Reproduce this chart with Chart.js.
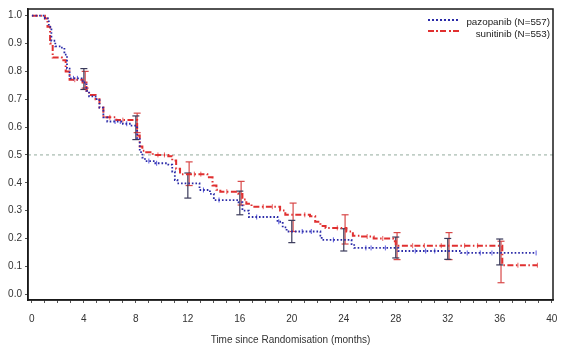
<!DOCTYPE html>
<html>
<head>
<meta charset="utf-8">
<script src="https://cdn.jsdelivr.net/npm/chart.js@4"></script>
<style>
  body { margin:0; background:#fff; }
  #wrap { position:relative; width:576px; height:353px; font-family:'Liberation Sans', Arial, sans-serif; }
  .lg { position:absolute; right:26px; font-size:9.8px; color:#222; white-space:nowrap; line-height:11px; }
  .sw { position:absolute; left:428px; width:32px; height:2px; }
</style>
</head>
<body>
<div id="wrap">
  <canvas id="km" width="576" height="353"></canvas>
  <div class="sw" style="top:19px;background:repeating-linear-gradient(to right,#2a2aa8 0 2px,transparent 2px 4px);"></div>
  <div class="sw" style="top:30px;background:repeating-linear-gradient(to right,#e03030 0 6px,transparent 6px 8.5px,#e03030 8.5px 10px,transparent 10px 12.5px);"></div>
  <div class="lg" style="top:16px;">pazopanib (N=557)</div>
  <div class="lg" style="top:28px;">sunitinib (N=553)</div>
</div>
<script>
// KM step curves: value holds from each time onward
const pazTimes = [0, 1.0, 1.3, 1.5, 1.8, 2.2, 2.5, 2.7, 2.9, 3.9, 4.2, 4.4, 4.9, 5.2, 5.5, 5.8, 7.0, 7.6, 8.1, 8.3, 8.5, 8.7, 9.5, 10.5, 10.8, 11.0, 11.2, 12.9, 13.7, 14.0, 15.9, 16.2, 16.7, 18.9, 19.3, 19.6, 22.2, 22.3, 24.6, 24.8, 28.2, 33.0, 38.8];
const pazSurv  = [1.0, 0.99, 0.96, 0.91, 0.89, 0.885, 0.86, 0.81, 0.775, 0.76, 0.73, 0.71, 0.70, 0.67, 0.635, 0.62, 0.612, 0.605, 0.56, 0.51, 0.49, 0.478, 0.47, 0.465, 0.44, 0.41, 0.398, 0.374, 0.36, 0.338, 0.33, 0.30, 0.277, 0.26, 0.24, 0.225, 0.21, 0.195, 0.18, 0.166, 0.155, 0.148, 0.148];
const sunTimes = [0, 1.0, 1.2, 1.4, 1.6, 2.3, 2.6, 2.9, 3.9, 4.2, 4.4, 4.9, 5.2, 5.5, 6.5, 8.1, 8.3, 8.5, 8.8, 9.3, 10.5, 10.8, 11.1, 11.4, 13.5, 13.9, 14.2, 14.5, 15.9, 16.2, 16.5, 16.9, 19.1, 19.5, 21.4, 21.8, 22.2, 22.6, 24.2, 24.7, 25.3, 26.3, 27.8, 28.0, 36.2, 38.9];
const sunSurv  = [1.0, 0.99, 0.96, 0.90, 0.85, 0.84, 0.80, 0.77, 0.76, 0.73, 0.715, 0.70, 0.67, 0.635, 0.625, 0.57, 0.53, 0.515, 0.51, 0.50, 0.495, 0.48, 0.45, 0.431, 0.42, 0.39, 0.375, 0.368, 0.36, 0.34, 0.325, 0.314, 0.30, 0.285, 0.28, 0.26, 0.245, 0.238, 0.225, 0.21, 0.207, 0.20, 0.19, 0.174, 0.104, 0.104];

// censoring times
const pazCensor = [3.2, 3.5, 6.4, 6.8, 7.3, 9.0, 9.6, 13.2, 14.4, 17.3, 19.0, 20.8, 21.5, 23.2, 25.7, 26.1, 27.2, 29.5, 30.3, 31.0, 33.5, 34.5, 35.4, 38.8];
const sunCensor = [3.3, 6.0, 7.0, 9.7, 10.2, 12.5, 13.0, 15.0, 17.8, 18.5, 21.0, 23.5, 25.8, 27.0, 29.3, 30.2, 31.5, 33.3, 34.3, 37.4, 38.9];

// confidence intervals at landmark times
const ciTimes = [4, 8, 12, 16, 20, 24, 28, 32, 36];
const pazLo = [0.735, 0.555, 0.345, 0.285, 0.185, 0.155, 0.13, 0.125, 0.105];
const pazHi = [0.81, 0.64, 0.435, 0.37, 0.265, 0.235, 0.205, 0.20, 0.198];
const sunLo = [0.74, 0.58, 0.39, 0.32, 0.225, 0.18, 0.124, 0.124, 0.041];
const sunHi = [0.80, 0.65, 0.475, 0.405, 0.327, 0.285, 0.221, 0.221, 0.19];

const refLevel = 0.5;
const xMin = -0.3, xMax = 40.1, yMin = -0.021, yMax = 1.024;

const PAZ = '#2a2aa8', SUN = '#e03030';

const stepAt = (times, surv, t) => {
  let v = surv[0];
  times.forEach((tt, i) => { if (tt <= t) v = surv[i]; });
  return v;
};

const curve = (times, surv) => times.map((t, i) => ({ x: t, y: surv[i] }));
const marks = (cens, times, surv) => cens.map(t => ({ x: t, y: stepAt(times, surv, t) }));

const ciSets = [];
ciTimes.forEach((t, i) => {
  ciSets.push({ type:'line', data:[{x:t, y:pazLo[i]}, {x:t, y:pazHi[i]}],
    borderColor:'#3a3a5a', borderWidth:1.2, pointStyle:'line', pointRadius:3.5,
    pointBorderColor:'#3a3a5a', pointBorderWidth:1.2 });
  ciSets.push({ type:'line', data:[{x:t + 0.1, y:sunLo[i]}, {x:t + 0.1, y:sunHi[i]}],
    borderColor:'#d84848', borderWidth:1.2, pointStyle:'line', pointRadius:3.5,
    pointBorderColor:'#d84848', pointBorderWidth:1.2 });
});

const boxPlugin = {
  id: 'box',
  afterDraw(chart) {
    const { ctx, chartArea: a } = chart;
    ctx.save();
    ctx.strokeStyle = '#1a1a1a';
    ctx.lineWidth = 1.5;
    ctx.strokeRect(a.left, a.top, a.right - a.left, a.bottom - a.top);
    ctx.restore();
  }
};

new Chart(document.getElementById('km'), {
  type: 'line',
  data: {
    datasets: [
      { label:'pazopanib (N=557)', data: curve(pazTimes, pazSurv), stepped:'before',
        borderColor: PAZ, borderWidth:1.8, borderDash:[1.6, 2], pointRadius:0 },
      { label:'sunitinib (N=553)', data: curve(sunTimes, sunSurv), stepped:'before',
        borderColor: SUN, borderWidth:2, borderDash:[6, 2.5, 1.5, 2.5], pointRadius:0 },
      { data: marks(pazCensor, pazTimes, pazSurv), showLine:false, pointStyle:'line', rotation:90,
        pointRadius:2.5, pointBorderColor:'#5a5ae0', pointBorderWidth:1 },
      { data: marks(sunCensor, sunTimes, sunSurv), showLine:false, pointStyle:'line', rotation:90,
        pointRadius:2.5, pointBorderColor:'#e86060', pointBorderWidth:1 },
      ...ciSets,
      { data:[{x:xMin, y:refLevel}, {x:xMax, y:refLevel}], borderColor:'#94ab9e',
        borderWidth:1, borderDash:[3, 3], pointRadius:0 }
    ]
  },
  options: {
    responsive:false, animation:false, devicePixelRatio:1,
    layout: { padding: { top:8, right:23, left:0, bottom:0 } },
    plugins: { legend:{ display:false }, tooltip:{ enabled:false } },
    scales: {
      x: {
        type:'linear', min:xMin, max:xMax,
        afterFit: s => { s.height = 53; },
        border: { color:'#1a1a1a', width:1.5 },
        grid: { drawOnChartArea:false, drawTicks:true, tickLength:3, color:'#555' },
        ticks: { stepSize:1, autoSkip:false, includeBounds:false, maxRotation:0, padding:10,
          color:'#333', font:{ family:'Liberation Sans', size:10 },
          callback: v => (v % 4 === 0 ? v : '') },
        title: { display:true, text:'Time since Randomisation (months)', color:'#333',
          font:{ family:'Liberation Sans', size:10 }, padding:{ top:0, bottom:7 } }
      },
      y: {
        min:yMin, max:yMax,
        afterFit: s => { s.width = 28; },
        border: { color:'#1a1a1a', width:1.5 },
        grid: { drawOnChartArea:false, drawTicks:true, tickLength:3, color:'#555' },
        ticks: { stepSize:0.1, includeBounds:false, padding:3, color:'#333',
          font:{ family:'Liberation Sans', size:10 },
          callback: v => v.toFixed(1) }
      }
    }
  },
  plugins: [boxPlugin]
});
</script>
</body>
</html>
